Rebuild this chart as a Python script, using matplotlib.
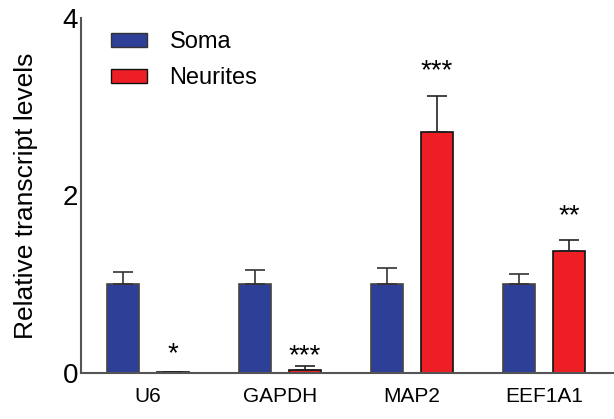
import numpy as np
import matplotlib
matplotlib.use("Agg")
import matplotlib.pyplot as plt
from matplotlib.patches import Patch

plt.rcParams['font.family'] = ['Liberation Sans', 'DejaVu Sans']

# data
genes = ['U6', 'GAPDH', 'MAP2', 'EEF1A1']
soma = [1.0, 1.0, 1.0, 1.0]
soma_err = [0.14, 0.16, 0.18, 0.11]
neurites = [0.01, 0.03, 2.72, 1.37]
neurites_err = [0.0, 0.05, 0.40, 0.13]
stars = ['*', '***', '***', '**']
star_y = [0.06, 0.04, 3.25, 1.62]

blue = '#2e3f97'
red = '#ee1f24'

fig = plt.figure(figsize=(6.14, 4.19), dpi=100)
ax = fig.add_axes([0.132, 0.110, 0.866, 0.847])

x = np.arange(len(genes))
w = 0.242
off = 0.189

ax.bar(x - off, soma, w, color=blue, edgecolor='#444444', linewidth=1.2,
       yerr=[np.zeros(4), soma_err], error_kw=dict(ecolor='#333333', elinewidth=1.2, capsize=7, capthick=1.2))
ax.bar(x + off, neurites, w, color=red, edgecolor='#111111', linewidth=1.2,
       yerr=[np.zeros(4), neurites_err], error_kw=dict(ecolor='#222222', elinewidth=1.2, capsize=7, capthick=1.2))

for i, s in enumerate(stars):
    ax.text(x[i] + off, star_y[i], s, ha='center', va='bottom', fontsize=20)

ax.set_xlim(-0.508, 3.52)
ax.set_ylim(0, 4)
ax.set_yticks([0, 2, 4])
ax.set_xticks(x)
ax.set_xticklabels(genes, fontsize=15)
ax.tick_params(axis='y', length=0, labelsize=20, pad=2)
ax.tick_params(axis='x', length=0, pad=10)
ax.set_ylabel('Relative transcript levels', fontsize=19, labelpad=18)

for side in ['top', 'right']:
    ax.spines[side].set_visible(False)
for side in ['left', 'bottom']:
    ax.spines[side].set_color('#555555')
    ax.spines[side].set_linewidth(1.5)

handles = [Patch(facecolor=blue, edgecolor='#333333', label='Soma'),
           Patch(facecolor=red, edgecolor='#111111', label='Neurites')]
ax.legend(handles=handles, loc='upper left', bbox_to_anchor=(0.017, 1.023), frameon=False,
          fontsize=17, handlelength=1.53, handleheight=0.55, handletextpad=0.93, labelspacing=0.6)

fig.savefig('out.png', dpi=100)
